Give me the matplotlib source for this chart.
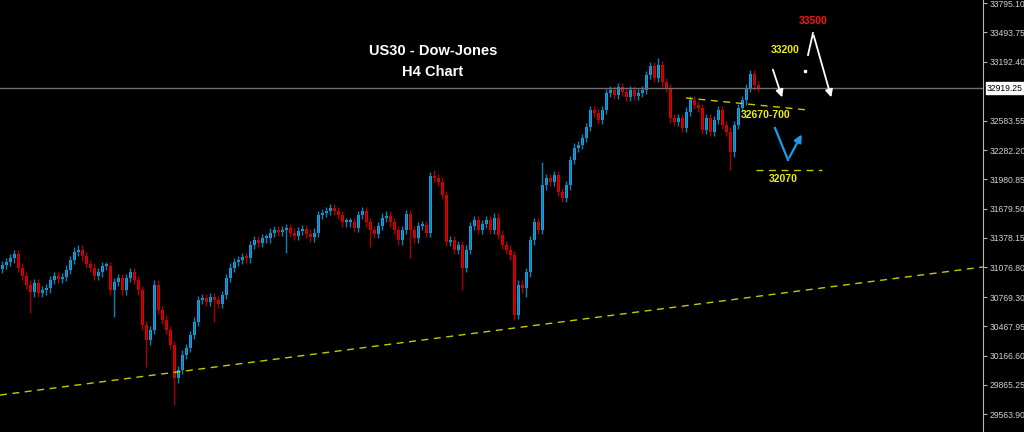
import matplotlib
matplotlib.use("Agg")
import matplotlib.pyplot as plt
import numpy as np

# H4 closes, oldest first (one per bar)
closes = [
    31100, 31130, 31170, 31210, 31070, 30985, 30895, 30820, 30915, 30810,
    30840, 30860, 30945, 30985, 30955, 30975, 31050, 31150, 31235, 31255,
    31190, 31110, 31070, 30985, 31025, 31090, 31090, 30840, 30925, 30965,
    30840, 30965, 31025, 30945, 30840, 30480, 30325, 30430, 30895, 30635,
    30535, 30430, 30275, 29935, 30020, 30175, 30245, 30380, 30515, 30740,
    30760, 30720, 30770, 30740, 30700, 30790, 30965, 31070, 31130, 31150,
    31180, 31170, 31305, 31355, 31325, 31375, 31375, 31430, 31460, 31440,
    31460, 31480, 31430, 31400, 31450, 31470, 31420, 31385, 31430, 31615,
    31635, 31655, 31685, 31655, 31615, 31540, 31540, 31540, 31480, 31615,
    31655, 31540, 31460, 31420, 31500, 31585, 31605, 31540, 31460, 31355,
    31460, 31625, 31460, 31375, 31500, 31510, 31430, 32015, 31995, 31955,
    31820, 31335, 31355, 31255, 31305, 31070, 31255, 31500, 31560, 31460,
    31520, 31560, 31460, 31585, 31410, 31305, 31255, 31200, 30585, 30895,
    30860, 31025, 31355, 31540, 31460, 31920, 31995, 31955, 32025, 31850,
    31790, 31920, 32180, 32305, 32335, 32405, 32520, 32695, 32665, 32590,
    32695, 32870, 32900, 32850, 32930, 32880, 32830, 32900, 32840, 32870,
    32900, 33055, 33145, 33025, 33155, 32980, 32920, 32610, 32570, 32610,
    32510, 32675, 32795, 32745, 32715, 32490, 32610, 32470, 32590, 32695,
    32540, 32470, 32260, 32540, 32715, 32795, 32920, 33065, 32950, 32919.25,
]
first_open = 31060

# long wicks that stand out on the chart: bar index -> price
wick_lows = {7: 30605, 28: 30564, 36: 30050, 43: 29659, 53: 30513, 71: 31223,
             92: 31284, 102: 31171, 115: 30840, 128: 30533, 131: 30770, 182: 32077}
wick_highs = {108: 32077, 135: 32159, 164: 33229, 187: 33106}
wick_size = 45

price_ticks = [33795.10, 33493.75, 33192.40, 32583.55, 32282.20, 31980.85,
               31679.50, 31378.15, 31076.80, 30769.30, 30467.95, 30166.60,
               29865.25, 29563.90]
last_price = 32919.25

# trend lines (bar index, price)
support_line = ([-0.5, 245.25], [29761, 31079])
neck_line = ([171, 201.5], [32818, 32694])
level_32070 = ([188.5, 205], [32077, 32077])

bull_col, bull_wick = "#1aa6e6", "#1080b4"
bear_col, bear_wick = "#f00000", "#a80000"
yellow = "#c8c800"

opens = [first_open] + closes[:-1]
idx = np.arange(len(closes))
highs, lows = [], []
for i, (o, c) in enumerate(zip(opens, closes)):
    highs.append(wick_highs.get(i, max(o, c) + wick_size))
    lows.append(wick_lows.get(i, min(o, c) - wick_size))

fig = plt.figure(figsize=(10.24, 4.32), dpi=100, facecolor="black")
ax = fig.add_axes([0, 0, 983 / 1024, 1])
ax.set_facecolor("black")

up = np.array(closes) >= np.array(opens)
wick_cols = [bull_wick if u else bear_wick for u in up]
body_cols = [bull_col if u else bear_col for u in up]
ax.vlines(idx, lows, highs, colors=wick_cols, linewidth=1)
bottoms = np.minimum(opens, closes)
heights = np.maximum(np.abs(np.array(closes) - np.array(opens)), 20)
ax.bar(idx, heights, bottom=bottoms, width=0.75, color=body_cols, linewidth=0,
       antialiased=False)

ax.axhline(last_price, color="#6e6e6e", linewidth=1)

ax.plot(*support_line, color=yellow, linestyle=(0, (5, 4)), linewidth=1)
ax.plot(*neck_line, color=yellow, linestyle=(0, (5, 4)), linewidth=1)
ax.plot(*level_32070, color=yellow, linestyle=(0, (5, 4)), linewidth=1)

# projected moves
arrow_kw = dict(arrowstyle="-|>", color="white", lw=1.3, mutation_scale=11)
ax.annotate("", xy=(195.25, 32797), xytext=(192.5, 33137), arrowprops=arrow_kw)
ax.plot([201.5, 202.75], [33260, 33486], color="white", lw=1.3)
ax.annotate("", xy=(207.5, 32797), xytext=(202.75, 33486), arrowprops=arrow_kw)
ax.plot([200.75], [33095], marker="s", ms=1.5, color="white")
ax.plot([193.25, 196.5], [32509, 32180], color="#1e9be6", lw=1.6)
ax.annotate("", xy=(200.25, 32468), xytext=(196.5, 32180),
            arrowprops=dict(arrowstyle="-|>", color="#1e9be6", lw=1.6, mutation_scale=11))

lbl = dict(fontsize=7.5, fontweight="bold", family="Liberation Sans", ha="center", va="center")
ax.text(195.75, 33312, "33200", color="#f0f000", **lbl)
ax.text(202.75, 33610, "33500", color="#ff1010", **lbl)
ax.text(191, 32643, "32670-700", color="#f0f000", **lbl)
ax.text(195.25, 31984, "32070", color="#f0f000", **lbl)

fig.text(433 / 1024, 1 - 51 / 432, "US30 - Dow-Jones", color="white", fontsize=10.5,
         fontweight="bold", family="Liberation Sans", ha="center", va="center")
fig.text(433 / 1024, 1 - 72 / 432, "H4 Chart", color="white", fontsize=10.5,
         fontweight="bold", family="Liberation Sans", ha="center", va="center")

ax.set_xlim(-0.5, 245.25)
ax.set_ylim(29381, 33826)
ax.set_xticks([])
ax.yaxis.tick_right()
ax.set_yticks(price_ticks)
ax.set_yticklabels([f"{v:.2f}" for v in price_ticks], family="Liberation Sans")
ax.tick_params(axis="y", colors="#b4b4b4", labelcolor="#d0d0d0", labelsize=6.2,
               length=3, width=0.8, pad=1.5)
for side in ["top", "left", "bottom"]:
    ax.spines[side].set_visible(False)
ax.spines["right"].set_color("#b4b4b4")
ax.spines["right"].set_linewidth(0.8)

ax.text(1.004, last_price, f"{last_price:.2f}", transform=ax.get_yaxis_transform(),
        fontsize=6.2, family="Liberation Sans", color="black", va="center", ha="left",
        bbox=dict(boxstyle="square,pad=0.15", fc="white", ec="white"), clip_on=False)

fig.savefig("out.png", dpi=100, facecolor="black")
